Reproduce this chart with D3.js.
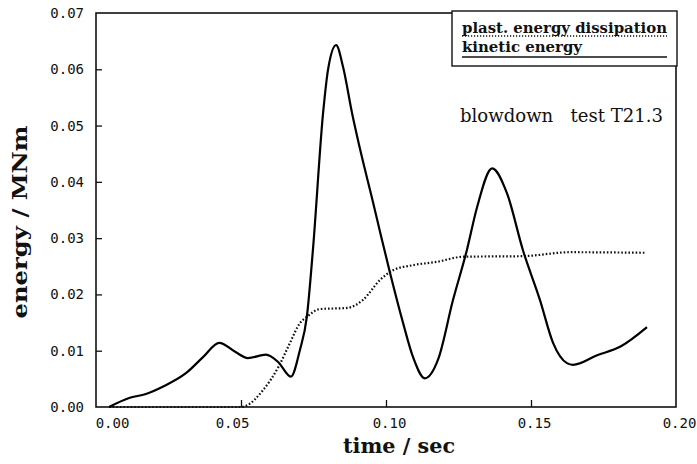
<!DOCTYPE html>
<html>
<head>
<meta charset="utf-8">
<script src="https://cdn.jsdelivr.net/npm/d3@7"></script>
<style>
  body { margin: 0; background: #fff; }
  .tick text { font-family: "DejaVu Sans Mono", monospace; font-size: 14px; fill: #111; }
  .tick line { stroke: #111; stroke-width: 1.3; }
</style>
</head>
<body>
<div id="chart"></div>
<script>
// kinetic energy (solid line), time in sec, energy in MNm
var keTime = [0.0045, 0.0114, 0.0172, 0.023, 0.031, 0.037, 0.0425, 0.048, 0.0524, 0.0586, 0.0628, 0.0672,
  0.0703, 0.0727, 0.0748, 0.0783, 0.080, 0.0828, 0.0852, 0.0883, 0.0917, 0.0950, 0.098,
  0.1014, 0.1059, 0.1093, 0.1134, 0.1180, 0.1231, 0.1279, 0.1314, 0.1366, 0.1417, 0.1472, 0.1531,
  0.1576, 0.1624, 0.1645, 0.1728, 0.1807, 0.19];
var keValue = [0, 0.0016, 0.0023, 0.0036, 0.006, 0.0089, 0.0114, 0.0098, 0.0087, 0.0093, 0.0080, 0.0054,
  0.0101, 0.016, 0.0279, 0.0522, 0.0599, 0.0643, 0.0604, 0.0522, 0.0444, 0.0375, 0.031,
  0.0238, 0.0149, 0.0089, 0.0051, 0.0085, 0.019, 0.0279, 0.0355, 0.0424, 0.038, 0.0279, 0.019,
  0.0114, 0.0078, 0.0075, 0.0092, 0.0107, 0.0142];

// plastic energy dissipation (dotted line)
var peTime = [0.0045, 0.05, 0.0517, 0.0576, 0.063, 0.0669, 0.0703, 0.0727, 0.0772, 0.0866, 0.092, 0.098,
  0.1024, 0.1093, 0.1176, 0.1266, 0.1472, 0.1634, 0.1893];
var peValue = [0, 0, 0.0002, 0.003, 0.0072, 0.0114, 0.0149, 0.016, 0.0174, 0.0176, 0.019, 0.0226,
  0.0243, 0.0252, 0.0258, 0.0267, 0.0268, 0.0275, 0.0274];

var xTicks = [0, 0.05, 0.10, 0.15, 0.20];
var yTicks = [0, 0.01, 0.02, 0.03, 0.04, 0.05, 0.06, 0.07];
var legendLabels = ["plast. energy dissipation", "kinetic energy"];
var chartTitle = "blowdown\u00a0\u00a0 test T21.3";

var svgWidth = 697, svgHeight = 464;
var plotLeft = 96, plotRight = 676, plotTop = 13, plotBottom = 407;

var svg = d3.select("#chart").append("svg")
    .attr("width", svgWidth)
    .attr("height", svgHeight);

var x = d3.scaleLinear().domain([0, 0.2]).range([plotLeft, plotRight]);
var y = d3.scaleLinear().domain([0, 0.07]).range([plotBottom, plotTop]);

// frame
svg.append("rect")
    .attr("x", plotLeft).attr("y", plotTop)
    .attr("width", plotRight - plotLeft).attr("height", plotBottom - plotTop)
    .style("fill", "none").style("stroke", "#111").style("stroke-width", 1.6);

// axes with inward ticks
var xAxis = svg.append("g")
    .attr("transform", `translate(0, ${plotBottom})`)
    .call(d3.axisBottom(x).tickValues(xTicks).tickFormat(d3.format(".2f"))
      .tickSizeInner(-7).tickSizeOuter(0).tickPadding(11));
xAxis.select(".domain").remove();
xAxis.selectAll(".tick text")
    .attr("dx", (d, i) => [16, -9, 3, 3, 3][i]);
xAxis.selectAll(".tick line").filter(d => d === 0 || d === 0.2).remove();

var yAxis = svg.append("g")
    .attr("transform", `translate(${plotLeft}, 0)`)
    .call(d3.axisLeft(y).tickValues(yTicks).tickFormat(d3.format(".2f"))
      .tickSizeInner(-6).tickSizeOuter(0).tickPadding(12));
yAxis.select(".domain").remove();
yAxis.selectAll(".tick line").filter(d => d === 0 || d === 0.07).remove();

// curves
var line = d3.line()
    .x(d => x(d[0]))
    .y(d => y(d[1]))
    .curve(d3.curveMonotoneX);

var keData = keTime.map((t, i) => [t, keValue[i]]);
var peData = peTime.map((t, i) => [t, peValue[i]]);

svg.append("path")
    .datum(peData)
    .attr("d", line)
    .style("fill", "none")
    .style("stroke", "#111")
    .style("stroke-width", 2.2)
    .style("stroke-dasharray", "1.6,2");

svg.append("path")
    .datum(keData)
    .attr("d", line)
    .style("fill", "none")
    .style("stroke", "#000")
    .style("stroke-width", 2.2);

// legend box
var legend = svg.append("g");
legend.append("rect")
    .attr("x", 452).attr("y", 11)
    .attr("width", 225).attr("height", 55)
    .style("fill", "#fff").style("stroke", "#111").style("stroke-width", 1.4);

legend.selectAll("text.leg")
    .data(legendLabels)
    .enter().append("text")
    .attr("class", "leg")
    .attr("x", 462)
    .attr("y", (d, i) => 33 + i * 19)
    .attr("textLength", (d, i) => i === 0 ? 205 : 120)
    .attr("lengthAdjust", "spacingAndGlyphs")
    .style("font-family", "'DejaVu Serif', serif")
    .style("font-weight", "bold")
    .style("font-size", "15px")
    .style("fill", "#111")
    .text(d => d);

legend.append("line")
    .attr("x1", 462).attr("x2", 667).attr("y1", 36).attr("y2", 36)
    .style("stroke", "#111").style("stroke-width", 1.6).style("stroke-dasharray", "1.2,1.8");
legend.append("line")
    .attr("x1", 462).attr("x2", 667).attr("y1", 57).attr("y2", 57)
    .style("stroke", "#111").style("stroke-width", 1.4);

// title inside plot
svg.append("text")
    .attr("x", 460).attr("y", 122)
    .attr("textLength", 203)
    .attr("lengthAdjust", "spacingAndGlyphs")
    .style("font-family", "'DejaVu Serif', serif")
    .style("font-size", "18px")
    .style("fill", "#111")
    .text(chartTitle);

// axis titles
svg.append("text")
    .attr("x", 399).attr("y", 453)
    .attr("text-anchor", "middle")
    .attr("textLength", 112)
    .attr("lengthAdjust", "spacingAndGlyphs")
    .style("font-family", "'DejaVu Serif', serif")
    .style("font-weight", "bold")
    .style("font-size", "20px")
    .style("fill", "#111")
    .text("time / sec");

svg.append("text")
    .attr("transform", "translate(27, 222) rotate(-90)")
    .attr("text-anchor", "middle")
    .attr("textLength", 193)
    .attr("lengthAdjust", "spacingAndGlyphs")
    .style("font-family", "'DejaVu Serif', serif")
    .style("font-weight", "bold")
    .style("font-size", "20px")
    .style("fill", "#111")
    .text("energy / MNm");
</script>
</body>
</html>
